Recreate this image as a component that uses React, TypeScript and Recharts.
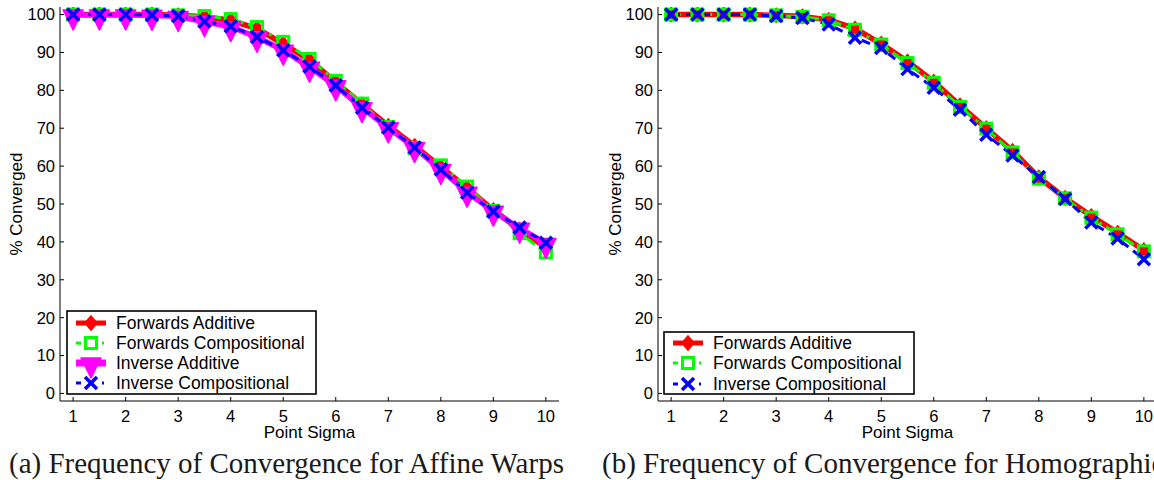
import { LineChart, Line, XAxis, YAxis, Legend, Label } from 'recharts'

// point sigma values (x axis)
const sigma = [1, 1.5, 2, 2.5, 3, 3.5, 4, 4.5, 5, 5.5, 6, 6.5, 7, 7.5, 8, 8.5, 9, 9.5, 10]

// (a) affine warps, % converged
const affineFA = [100, 100, 100, 100, 99.8, 99.4, 98.5, 96.3, 92.3, 88.0, 82.2, 76.3, 70.6, 65.3, 59.8, 54.2, 48.4, 43.2, 38.5]
const affineFC = [100, 100, 100, 100, 99.8, 99.6, 98.8, 96.7, 92.8, 88.3, 82.5, 76.5, 70.3, 64.8, 60.2, 54.6, 48.2, 42.3, 37.2]
const affineIA = [99.9, 99.9, 99.9, 99.8, 99.5, 98.1, 96.8, 94.0, 90.6, 86.1, 81.2, 75.4, 70.1, 64.9, 59.1, 53.1, 48.1, 43.6, 39.6]
const affineIC = [100, 100, 100, 99.9, 99.6, 98.2, 96.9, 94.1, 90.6, 86.3, 81.3, 75.4, 70.2, 64.9, 59.1, 53.0, 48.0, 43.8, 39.8]

// (b) homographies, % converged
const homogFA = [100, 100, 100, 100, 99.8, 99.5, 98.6, 96.3, 92.3, 87.6, 82.3, 76.0, 70.0, 64.0, 57.0, 51.6, 46.8, 42.4, 37.8]
const homogFC = [100, 100, 100, 100, 99.8, 99.4, 98.5, 96.0, 92.1, 87.2, 82.0, 75.6, 69.9, 63.6, 56.7, 51.5, 46.4, 42.0, 37.5]
const homogIC = [100, 100, 100, 100, 99.6, 99.1, 97.4, 93.9, 91.2, 85.6, 80.7, 74.9, 68.3, 62.8, 57.1, 51.3, 45.1, 40.9, 35.4]

const xTicks = [1, 2, 3, 4, 5, 6, 7, 8, 9, 10]
const yTicks = [0, 10, 20, 30, 40, 50, 60, 70, 80, 90, 100]

const SANS = 'Liberation Sans, Arial, Helvetica, sans-serif'
const SERIF = 'Liberation Serif, Times New Roman, serif'

type Kind = 'fa' | 'fc' | 'ia' | 'ic'

const names: Record<Kind, string> = {
  fa: 'Forwards Additive',
  fc: 'Forwards Compositional',
  ia: 'Inverse Additive',
  ic: 'Inverse Compositional',
}

function Marker({ kind, cx, cy }: { kind: Kind; cx: number; cy: number }) {
  if (kind === 'fa')
    return <polygon points={`${cx},${cy - 7} ${cx + 6},${cy} ${cx},${cy + 7} ${cx - 6},${cy}`} fill="#ff0000" stroke="#ff0000" strokeWidth={1.5} />
  if (kind === 'fc')
    return <rect x={cx - 5.5} y={cy - 5.5} width={11} height={11} fill="none" stroke="#00ff00" strokeWidth={3} />
  if (kind === 'ia')
    return <polygon points={`${cx - 10},${cy - 5} ${cx + 10},${cy - 5} ${cx},${cy + 15}`} fill="#ff00ff" stroke="#ff00ff" strokeWidth={1.5} strokeLinejoin="round" />
  return (
    <g stroke="#0000ff" strokeWidth={3.5}>
      <line x1={cx - 6} y1={cy - 6} x2={cx + 6} y2={cy + 6} />
      <line x1={cx - 6} y1={cy + 6} x2={cx + 6} y2={cy - 6} />
    </g>
  )
}

const lineStyle: Record<Kind, { stroke: string; strokeWidth: number; strokeDasharray?: string }> = {
  fa: { stroke: '#ff0000', strokeWidth: 5.5 },
  fc: { stroke: '#00ff00', strokeWidth: 3, strokeDasharray: '10 5 3 5' },
  ia: { stroke: '#ff00ff', strokeWidth: 5.5 },
  ic: { stroke: '#0000ff', strokeWidth: 3, strokeDasharray: '9 6' },
}

function LegendBox({ kinds, width, height, rowY }: { kinds: Kind[]; width: number; height: number; rowY: number[] }) {
  return (
    <svg width={width} height={height} style={{ display: 'block' }}>
      <rect x={1} y={1} width={width - 2} height={height - 2} fill="#fff" stroke="#000" strokeWidth={1.6} />
      {kinds.map((k, i) => {
        const y = rowY[i]
        const s = lineStyle[k]
        return (
          <g key={k}>
            {k === 'fa' || k === 'ia' ? (
              <line x1={10} y1={y} x2={40} y2={y} stroke={s.stroke} strokeWidth={k === 'ia' ? 7 : 5} />
            ) : (
              <g stroke={s.stroke} strokeWidth={3}>
                <line x1={10} y1={y} x2={15} y2={y} />
                <line x1={36} y1={y} x2={38} y2={y} />
              </g>
            )}
            <Marker kind={k} cx={25} cy={y} />
            <text x={50} y={y} dominantBaseline="central" fontFamily={SANS} fontSize={17.5} fill="#000">
              {names[k]}
            </text>
          </g>
        )
      })}
    </svg>
  )
}

interface PanelProps {
  left: number
  series: { kind: Kind; values: number[] }[]
  legend: { left: number; top: number; width: number; height: number; rowY: number[] }
  yLabelX: number
}

function Panel({ left, series, legend, yLabelX }: PanelProps) {
  const rows = sigma.map((x, i) => {
    const r: Record<string, number> = { x }
    series.forEach(s => { r[s.kind] = s.values[i] })
    return r
  })
  const kinds = series.map(s => s.kind)

  return (
    <div style={{ position: 'absolute', left, top: 0 }}>
      <LineChart width={570} height={455} data={rows} margin={{ top: 7, right: 11, bottom: 24, left: 0 }}>
        <XAxis
          dataKey="x"
          type="number"
          domain={[0.75, 10.25]}
          ticks={xTicks}
          allowDataOverflow
          height={30}
          stroke="#000"
          tickSize={-4}
          tickMargin={13}
          tick={{ fill: '#000', fontFamily: SANS, fontSize: 16.5 }}
        >
          <Label
            content={() => (
              <text x={309.5} y={438} textAnchor="middle" fontFamily={SANS} fontSize={17} fill="#000">
                Point Sigma
              </text>
            )}
          />
        </XAxis>
        <YAxis
          type="number"
          domain={[-2, 102]}
          ticks={yTicks}
          allowDataOverflow
          width={60}
          stroke="#000"
          tickSize={-4}
          tickMargin={9}
          tick={{ fill: '#000', fontFamily: SANS, fontSize: 16.5 }}
        >
          <Label
            content={() => (
              <text
                x={yLabelX}
                y={204}
                transform={`rotate(-90 ${yLabelX} 204)`}
                textAnchor="middle"
                dominantBaseline="central"
                fontFamily={SANS}
                fontSize={17}
                fill="#000"
              >
                % Converged
              </text>
            )}
          />
        </YAxis>
        {kinds.map(k => (
          <Line
            key={k}
            dataKey={k}
            name={names[k]}
            type="linear"
            {...lineStyle[k]}
            isAnimationActive={false}
            activeDot={false}
            dot={(p: any) => (p.cx == null ? <g key={`${k}${p.index}`} /> : <g key={`${k}${p.index}`}><Marker kind={k} cx={p.cx} cy={p.cy} /></g>)}
          />
        ))}
        <Legend
          layout="horizontal"
          verticalAlign="middle"
          align="center"
          wrapperStyle={{ left: legend.left, top: legend.top, width: legend.width, height: legend.height }}
          content={() => <LegendBox kinds={kinds} width={legend.width} height={legend.height} rowY={legend.rowY} />}
        />
      </LineChart>
    </div>
  )
}

export default function App() {
  return (
    <div style={{ position: 'absolute', left: 0, top: 0, width: 1154, height: 480, overflow: 'hidden', background: '#fff' }}>
      <Panel
        left={0}
        yLabelX={16}
        series={[
          { kind: 'fa', values: affineFA },
          { kind: 'fc', values: affineFC },
          { kind: 'ia', values: affineIA },
          { kind: 'ic', values: affineIC },
        ]}
        legend={{ left: 66, top: 310, width: 251, height: 85, rowY: [13, 33, 53, 73] }}
      />
      <Panel
        left={598}
        yLabelX={17}
        series={[
          { kind: 'fa', values: homogFA },
          { kind: 'fc', values: homogFC },
          { kind: 'ic', values: homogIC },
        ]}
        legend={{ left: 65, top: 331, width: 252, height: 64, rowY: [12, 32, 53] }}
      />
      <svg width={1154} height={480} style={{ position: 'absolute', left: 0, top: 0, pointerEvents: 'none' }}>
        <text x={9} y={473} fontFamily={SERIF} fontSize={29} fill="#1a1a1a">
          (a) Frequency of Convergence for Affine Warps
        </text>
        <text x={602} y={473} fontFamily={SERIF} fontSize={29} fill="#1a1a1a">
          (b) Frequency of Convergence for Homographies
        </text>
      </svg>
    </div>
  )
}
